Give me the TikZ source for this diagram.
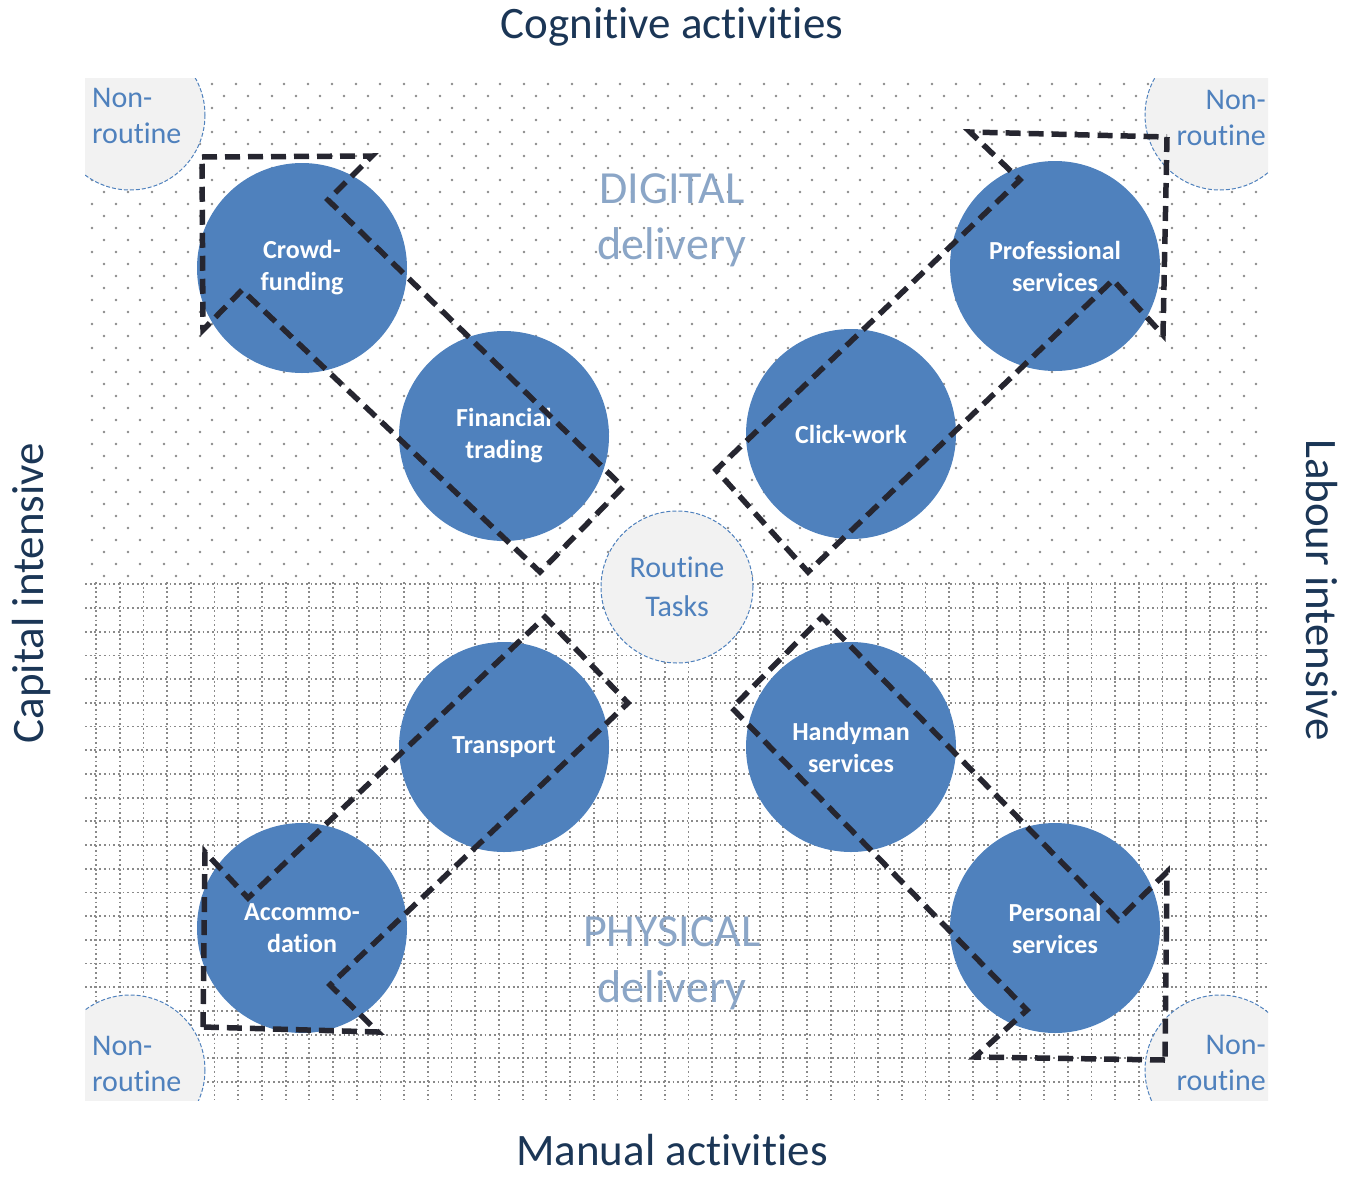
\documentclass[tikz,border=0pt]{standalone}
\usepackage{fontspec}
\setmainfont{Carlito}[Ligatures=NoCommon]
\usepackage{tikz}
\definecolor{officeblue}{HTML}{4F81BD}
\definecolor{darkdash}{HTML}{262630}
\definecolor{lightgrey}{HTML}{F2F2F2}
\definecolor{fadedblue}{HTML}{8BA6C7}
\definecolor{titleblue}{HTML}{1B3656}
\definecolor{dotgrey}{HTML}{8A8A8A}
\tikzstyle{bluedisc} = [circle, fill=officeblue, minimum size=210pt, inner sep=0pt,
    text=white, align=center, font=\fontsize{26}{32}\selectfont\bfseries]
\tikzstyle{routinedisc} = [circle, draw=officeblue, dash pattern=on 4pt off 2pt,
    fill=lightgrey, line width=1pt, minimum size=152pt, inner sep=0pt,
    text=officeblue, align=center, font=\fontsize{30}{39}\selectfont]
\tikzstyle{cornerdisc} = [draw=officeblue, dash pattern=on 4pt off 2pt, fill=lightgrey, line width=1pt]
\tikzstyle{cornertext} = [text=officeblue, inner sep=0pt, font=\fontsize{30}{36}\selectfont]
\tikzstyle{dealarrow} = [draw=darkdash, line width=5.5pt, dash pattern=on 15pt off 8pt, miter limit=20]
\tikzstyle{axistitle} = [text=titleblue, inner sep=0pt, font=\fontsize{45}{50}\selectfont]
\tikzstyle{deliverytext} = [text=fadedblue, align=center, font=\fontsize{46}{56}\selectfont]
\tikzstyle{gridline} = [dotgrey, line width=1.8pt, dash pattern=on 1.8pt off 2.9pt]

\begin{document}
\begin{tikzpicture}[x=1pt, y=-1pt]
    \useasboundingbox (0,0) rectangle (1348,1178);
    % dotted upper half
    \fill[dotgrey] \foreach \row in {0,...,41} {
        \foreach \col in {0,...,48} {
            ({92 + 24*\col + 12*mod(\row,2)}, {84 + 12*\row}) circle (1.4)
        }
    };
    % dotted grid lower half
    \foreach \gx in {96,119.7,...,1264} \draw[gridline] (\gx,582) -- (\gx,1100);
    \foreach \gy in {584.3,608,...,1090} \draw[gridline] (85,\gy) -- (1268,\gy);
    % corner circles
    \begin{scope}
        \clip (85,78) rectangle (1268,1100);
        \draw[cornerdisc] (130,115) circle (75);
        \draw[cornerdisc] (1220,115) circle (75);
        \draw[cornerdisc] (130,1070) circle (75);
        \draw[cornerdisc] (1220,1070) circle (75);
    \end{scope}
    \node[cornertext, anchor=west, align=left] (nrtl) at (92,116) {Non-\\routine};
    \node[cornertext, anchor=east, align=right] (nrtr) at (1266,118) {Non-\\routine};
    \node[cornertext, anchor=west, align=left] (nrbl) at (92,1064) {Non-\\routine};
    \node[cornertext, anchor=east, align=right] (nrbr) at (1266,1063) {Non-\\routine};
    \node[routinedisc] (routine) at (677,587) {Routine\\Tasks};
    % activity circles
    \node[bluedisc] (crowd) at (302,268) {Crowd-\\funding};
    \node[bluedisc] (finance) at (504,436) {Financial\\trading};
    \node[bluedisc] (click) at (851,434) {Click-work};
    \node[bluedisc] (prof) at (1055,266) {Professional\\services};
    \node[bluedisc] (transport) at (504,747) {Transport};
    \node[bluedisc] (handy) at (851,747) {Handyman\\services};
    \node[bluedisc] (accom) at (302,928) {Accommo-\\dation};
    \node[bluedisc] (personal) at (1055,928) {Personal\\services};
    % dashed block arrows
    \draw[dealarrow] (202,157) -- (372,156) -- (328,200) -- (623,487) -- (540,572)
        -- (242,290) -- (203,330) -- cycle;
    \draw[dealarrow] (1167,137) -- (1163,335) -- (1113,280) -- (808,572) -- (716,470)
        -- (1020,180) -- (970,132) -- cycle;
    \draw[dealarrow] (203,1027) -- (205,852) -- (248,898) -- (545,617) -- (628,703)
        -- (330,985) -- (378,1032) -- cycle;
    \draw[dealarrow] (1165,1060) -- (975,1057) -- (1027,1010) -- (732,708) -- (822,617)
        -- (1118,920) -- (1167,872) -- cycle;
    % labels
    \node[deliverytext] (digital) at (672,220) {DIGITAL\\delivery};
    \node[deliverytext] (physical) at (672,963) {PHYSICAL\\delivery};
    \node[axistitle] (cognitive) at (672,27) {Cognitive activities};
    \node[axistitle] (manual) at (672,1150) {Manual activities};
    \node[axistitle, rotate=90] (capital) at (32,593) {Capital intensive};
    \node[axistitle, rotate=-90] (labour) at (1322,590) {Labour intensive};
\end{tikzpicture}
\end{document}
